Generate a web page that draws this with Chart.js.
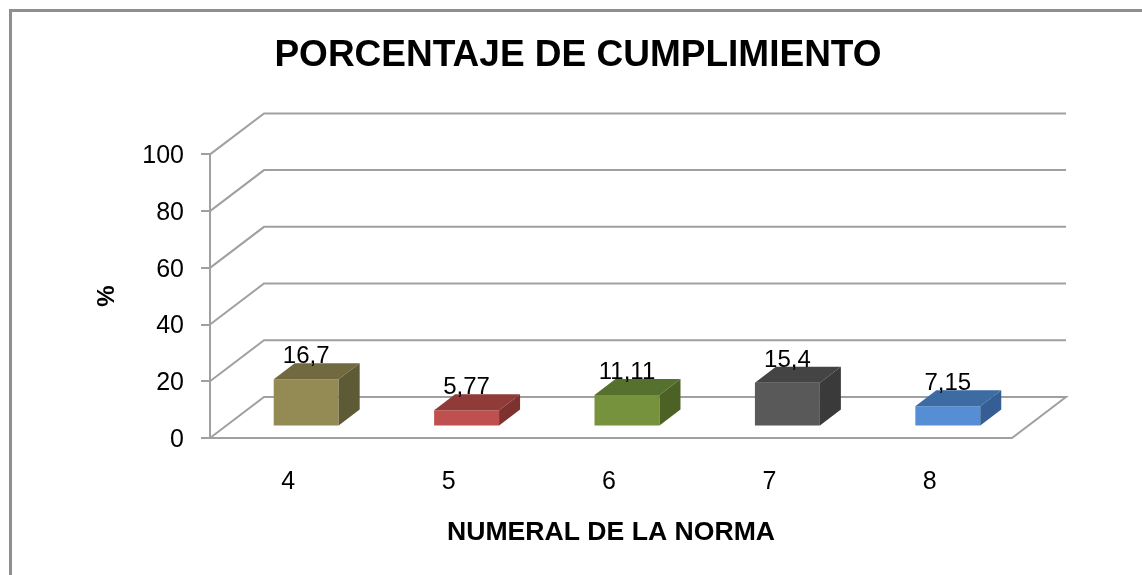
<!DOCTYPE html>
<html>
<head>
<meta charset="utf-8">
<script src="https://cdn.jsdelivr.net/npm/chart.js"></script>
<style>
  html, body { margin: 0; background: #fff; }
  canvas { display: block; }
</style>
</head>
<body>
<canvas id="chart" width="1142" height="575"></canvas>
<script>
// datos
const categories = ["4", "5", "6", "7", "8"];
const cumplimiento = [16.7, 5.77, 11.11, 15.4, 7.15];
const yTicks = [0, 20, 40, 60, 80, 100];

// colores de cada cara de las barras
const frontColors = ["#948a54", "#c0504d", "#76923c", "#595959", "#558ed5"];
const topColors = ["#716a40", "#8f3c39", "#56702e", "#444444", "#3d6ba3"];
const sideColors = ["#5e5a35", "#7e3230", "#4c6225", "#3a3a3a", "#355f94"];

const FONT = "'Liberation Sans', Arial, sans-serif";
const GRID = "#a0a0a0";

// profundidad del "3D"
const wallDx = 54, wallDy = -41;
const barDx = 21, barDy = -16;
const barShiftX = 16, barShiftY = -11.5;

// marco gris arriba y a la izquierda
const framePlugin = {
  id: "frame",
  beforeDraw(chart) {
    const ctx = chart.ctx;
    ctx.save();
    ctx.fillStyle = "#8f8f8f";
    ctx.fillRect(9, 9, chart.width - 9, 3);
    ctx.fillRect(9, 9, 3, chart.height - 9);
    ctx.restore();
  },
  afterLayout(chart) {
    // el titulo no queda centrado en el lienzo
    chart.titleBlock.left = 7;
    chart.titleBlock.right = chart.width + 7;
  }
};

// paredes y piso
const wallsPlugin = {
  id: "walls",
  beforeDatasetsDraw(chart) {
    const { ctx, chartArea, scales } = chart;
    const left = chartArea.left, right = chartArea.right;
    ctx.save();
    ctx.strokeStyle = GRID;
    ctx.lineWidth = 2;
    yTicks.forEach((v) => {
      const y = scales.y.getPixelForValue(v);
      ctx.beginPath();
      ctx.moveTo(left, y);
      ctx.lineTo(left + wallDx, y + wallDy);
      ctx.lineTo(right + wallDx, y + wallDy);
      if (v === 0) {
        ctx.lineTo(right, y);
        ctx.lineTo(left, y);
      }
      ctx.stroke();
    });
    ctx.restore();
  }
};

// corre la barra hacia el fondo y le agrega techo y lado
const bars3dPlugin = {
  id: "bars3d",
  beforeDatasetDraw(chart) {
    chart.ctx.save();
    chart.ctx.translate(barShiftX, barShiftY);
  },
  afterDatasetDraw(chart, args) {
    const ctx = chart.ctx;
    args.meta.data.forEach((bar, i) => {
      const l = bar.x - bar.width / 2, r = bar.x + bar.width / 2;
      const t = bar.y, b = bar.base;
      ctx.fillStyle = topColors[i];
      ctx.beginPath();
      ctx.moveTo(l, t);
      ctx.lineTo(l + barDx, t + barDy);
      ctx.lineTo(r + barDx, t + barDy);
      ctx.lineTo(r, t);
      ctx.closePath();
      ctx.fill();
      ctx.fillStyle = sideColors[i];
      ctx.beginPath();
      ctx.moveTo(r, t);
      ctx.lineTo(r + barDx, t + barDy);
      ctx.lineTo(r + barDx, b + barDy);
      ctx.lineTo(r, b);
      ctx.closePath();
      ctx.fill();
    });
    ctx.restore();
  },
  afterDatasetsDraw(chart) {
    const ctx = chart.ctx;
    ctx.save();
    ctx.font = "24px " + FONT;
    ctx.fillStyle = "#000";
    ctx.textAlign = "center";
    ctx.textBaseline = "alphabetic";
    chart.getDatasetMeta(0).data.forEach((bar, i) => {
      const label = String(cumplimiento[i]).replace(".", ",");
      ctx.fillText(label, bar.x + barShiftX, bar.y + barShiftY + barDy);
    });
    ctx.restore();
  }
};

new Chart(document.getElementById("chart"), {
  type: "bar",
  data: {
    labels: categories,
    datasets: [{
      data: cumplimiento,
      backgroundColor: frontColors,
      barPercentage: 0.405,
      categoryPercentage: 1
    }]
  },
  plugins: [framePlugin, wallsPlugin, bars3dPlugin],
  options: {
    responsive: false,
    animation: false,
    layout: { padding: { left: 93, right: 130, top: 0, bottom: 0 } },
    plugins: {
      legend: { display: false },
      tooltip: { enabled: false },
      title: {
        display: true,
        text: "PORCENTAJE DE CUMPLIMIENTO",
        color: "#000",
        font: { family: FONT, size: 37, weight: "bold" },
        padding: { top: 34, bottom: 76 }
      }
    },
    scales: {
      x: {
        grid: { display: false },
        border: { display: false },
        afterFit(s) { s.height = 137; },
        ticks: { color: "#000", padding: 21, labelOffset: -2, font: { family: FONT, size: 25 } },
        title: {
          display: true,
          text: "NUMERAL DE LA NORMA",
          color: "#000",
          font: { family: FONT, size: 26.6, weight: "bold" },
          padding: { top: 0, bottom: 26 }
        }
      },
      y: {
        min: 0,
        max: 100,
        afterFit(s) { s.width = 117; },
        afterBuildTicks(s) { s.ticks = yTicks.map((v) => ({ value: v })); },
        grid: { drawOnChartArea: false, color: GRID, lineWidth: 2, tickLength: 9 },
        border: { color: GRID, width: 2 },
        ticks: { color: "#000", padding: 17, labelOffset: 2, font: { family: FONT, size: 25 } },
        title: {
          display: true,
          text: "%",
          color: "#000",
          font: { family: FONT, size: 24, weight: "bold" },
          padding: 0
        }
      }
    }
  }
});
</script>
</body>
</html>
